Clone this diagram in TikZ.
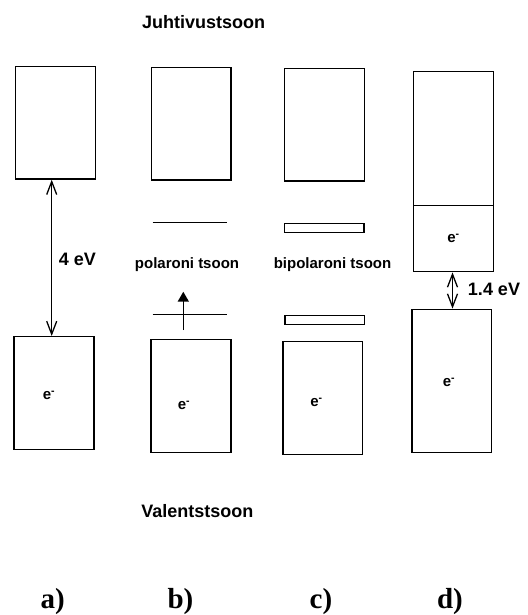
\documentclass[tikz,border=0pt]{standalone}
\usepackage{fontspec}
\setmainfont{Liberation Sans}
\newfontfamily\tagfont{Liberation Serif}
\usetikzlibrary{arrows.meta,positioning,calc}
\tikzset{
  band/.style={rectangle, draw, line width=1.4pt, inner sep=0pt, minimum width=80pt, font=\bfseries\fontsize{15}{15}\selectfont},
  thinband/.style={band, minimum height=9pt},
  level/.style={line width=1.4pt},
  gaparrow/.style={{Straight Barb[length=13pt,width=10pt]}-{Straight Barb[length=13pt,width=10pt]}, line width=1.3pt},
  jumparrow/.style={-{Triangle[length=10pt,width=11pt]}, line width=1.6pt},
  zone/.style={font=\bfseries\fontsize{18}{18}\selectfont},
  small/.style={font=\bfseries\fontsize{15}{15}\selectfont},
  tag/.style={font=\tagfont\bfseries\fontsize{29}{29}\selectfont},
}
\newcommand{\elec}{e\textsuperscript{-}}

\begin{document}
\begin{tikzpicture}[x=1pt, y=-1pt]
\useasboundingbox (0,0) rectangle (527,615);
% --- zone names ---
\node[zone] (cond) at (203.7,21.7) {Juhtivustsoon};
\node[zone] (val) at (197.3,510.7) {Valentstsoon};
% --- a) insulator ---
\node[band, minimum height=112.3pt] (aC) at (55.7,122.9) {};
\node[band, minimum height=112.6pt] (aV) at (54,393) {};
\node[small] (aE) at (49,395.7) {\elec};
\draw[gaparrow] ([xshift=-4pt]aC.south) -- ([xshift=-4pt]aC.south |- aV.north);
\node[zone] (aGap) at (77.5,259.3) {4 eV};
\node[tag] (aTag) at (52.8,601.7) {a)};
% --- b) polaron ---
\node[band, minimum width=79.3pt, minimum height=112.3pt] (bC) at (191.3,123.9) {};
\node[band, minimum height=112.6pt] (bV) at (191,396) {};
\node[small] (bE) at (184,405.3) {\elec};
\draw[level] (152.7,222.7) -- (227,222.7);
\draw[level] (152.7,314.3) -- (227,314.3);
\coordinate (bFrom) at (183.3,330);
\coordinate (bTo) at (183.3,291.7);
\draw[jumparrow] (bFrom) -- (bTo);
\node[small] (bLbl) at (187,264.3) {polaroni tsoon};
\node[tag] (bTag) at (180.5,601.7) {b)};
% --- c) bipolaron ---
\node[band, minimum height=112.7pt] (cC) at (324.3,124.7) {};
\node[thinband, minimum width=79.7pt] (cP1) at (324.2,227.8) {};
\node[thinband, minimum width=79.3pt] (cP2) at (324.7,320.2) {};
\node[band, minimum width=79.7pt, minimum height=112.6pt] (cV) at (322.9,398) {};
\node[small] (cE) at (316.5,402.3) {\elec};
\node[small] (cLbl) at (332.5,265) {bipolaroni tsoon};
\node[tag] (cTag) at (321,601.7) {c)};
% --- d) metal ---
\node[band, minimum width=79.6pt, minimum height=134pt] (dC) at (453.5,138.7) {};
\node[band, minimum width=79.6pt, minimum height=66pt] (dE) at (453.5,238.7) {\elec};
\node[band, minimum width=79.3pt, minimum height=143pt] (dV) at (451.7,380.8) {};
\node[small] (dEV) at (449,382.7) {\elec};
\draw[gaparrow] ([xshift=-1pt]dE.south) -- ([xshift=-1pt]dE.south |- dV.north);
\node[zone] (dGap) at (494,289.3) {1.4 eV};
\node[tag] (dTag) at (450,601.7) {d)};
\end{tikzpicture}
\end{document}
